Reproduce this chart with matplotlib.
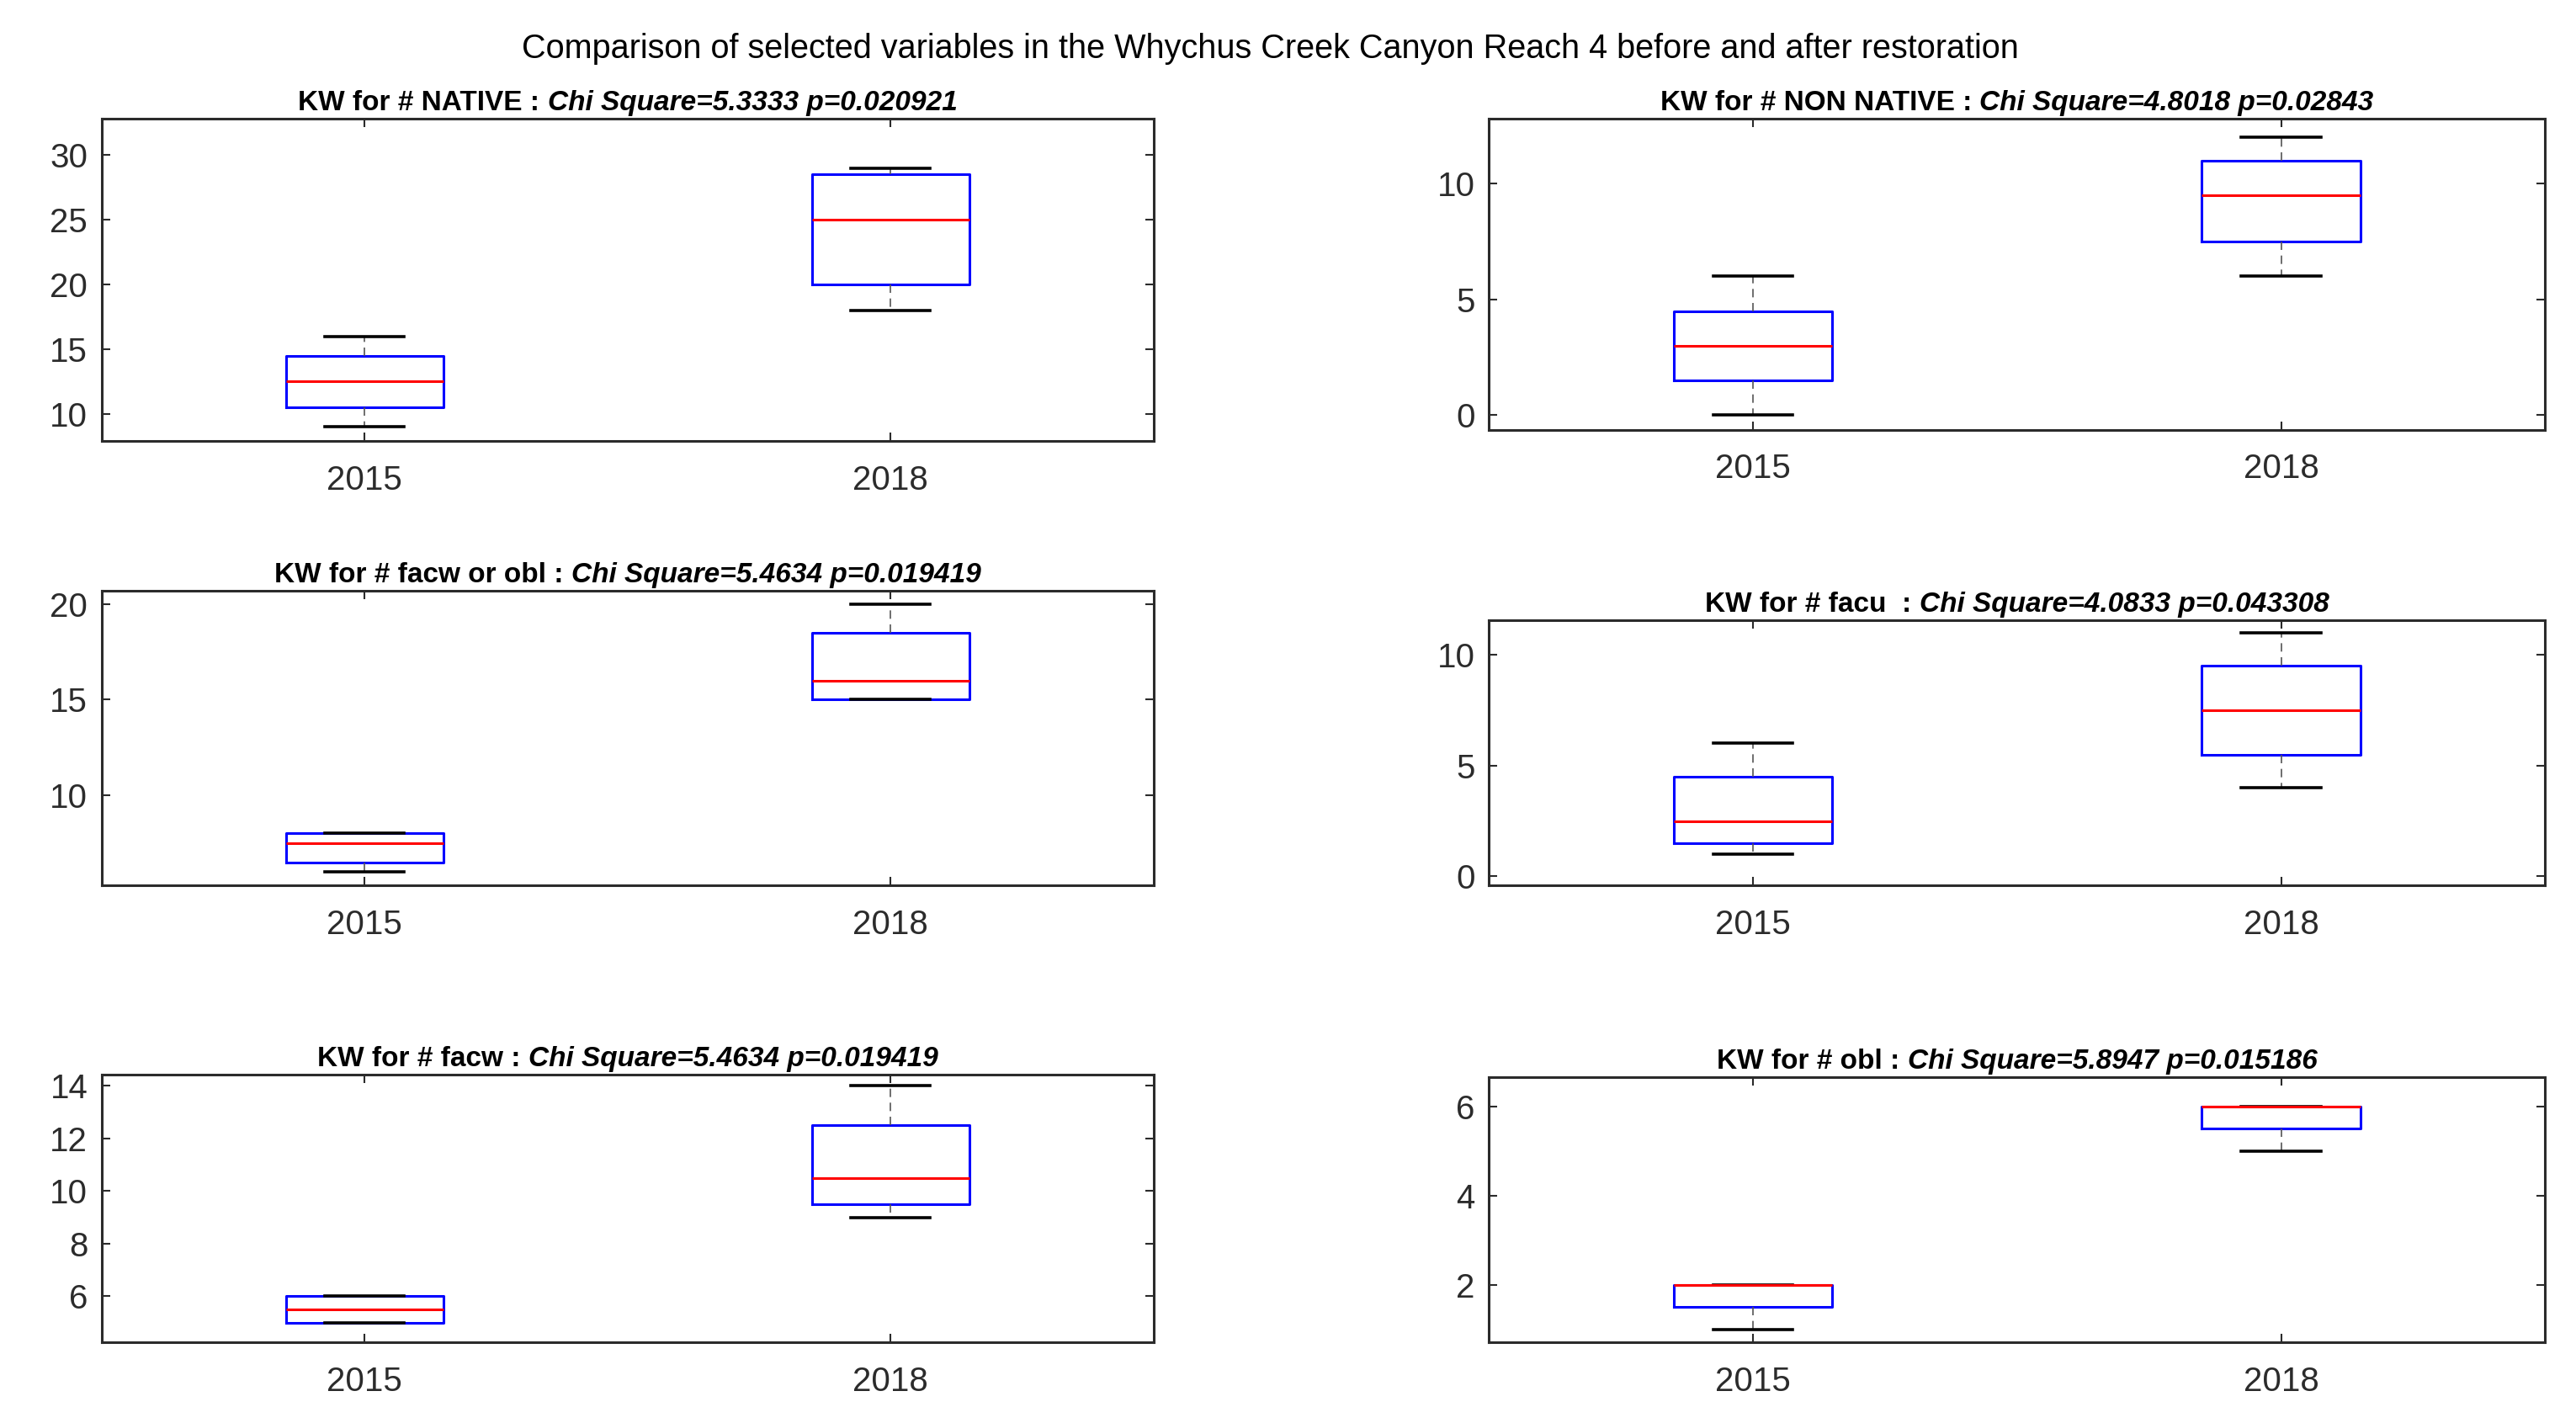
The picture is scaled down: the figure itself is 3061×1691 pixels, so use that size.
import matplotlib
matplotlib.use('Agg')
import matplotlib.pyplot as plt
from matplotlib.offsetbox import TextArea, HPacker, AnchoredOffsetbox

plt.rcParams['font.family'] = ['Liberation Sans', 'DejaVu Sans']

years = ['2015', '2018']

# five number summary per year: whisker low, q1, median, q3, whisker high
native = [[9, 10.5, 12.5, 14.5, 16], [18, 20, 25, 28.5, 29]]
non_native = [[0, 1.5, 3, 4.5, 6], [6, 7.5, 9.5, 11, 12]]
facw_obl = [[6, 6.5, 7.5, 8, 8], [15, 15, 16, 18.5, 20]]
facu = [[1, 1.5, 2.5, 4.5, 6], [4, 5.5, 7.5, 9.5, 11]]
facw = [[5, 5, 5.5, 6, 6], [9, 9.5, 10.5, 12.5, 14]]
obl = [[1, 1.5, 2, 2, 2], [5, 5.5, 6, 6, 6]]

names = ['# NATIVE', '# NON NATIVE', '# facw or obl', '# facu ', '# facw', '# obl']
stats_text = ['Chi Square=5.3333 p=0.020921', 'Chi Square=4.8018 p=0.02843',
              'Chi Square=5.4634 p=0.019419', 'Chi Square=4.0833 p=0.043308',
              'Chi Square=5.4634 p=0.019419', 'Chi Square=5.8947 p=0.015186']
summaries = [native, non_native, facw_obl, facu, facw, obl]
ylims = [(7.9, 32.8), (-0.63, 12.8), (5.3, 20.7), (-0.4, 11.57), (4.25, 14.43), (0.71, 6.66)]
yticks = [[10, 15, 20, 25, 30], [0, 5, 10], [10, 15, 20], [0, 5, 10], [6, 8, 10, 12, 14], [2, 4, 6]]

# axes rectangles [left, bottom, width, height]
rects = [[0.0395, 0.690, 0.4083, 0.2266], [0.578, 0.698, 0.410, 0.2185],
         [0.0395, 0.378, 0.4083, 0.207], [0.578, 0.378, 0.410, 0.1862],
         [0.0395, 0.0568, 0.4083, 0.188], [0.578, 0.0568, 0.410, 0.1862]]

axcol = '#2b2b2b'
fig = plt.figure(figsize=(30.61, 16.91), dpi=100)

for i in range(6):
    ax = fig.add_axes(rects[i])
    bstats = []
    for j, s in enumerate(summaries[i]):
        bstats.append({'whislo': s[0], 'q1': s[1], 'med': s[2], 'q3': s[3], 'whishi': s[4],
                       'fliers': [], 'label': years[j]})
    ax.bxp(bstats, positions=[1, 2], widths=0.3, capwidths=0.15, showfliers=False,
           boxprops=dict(color='blue', linewidth=2.2),
           medianprops=dict(color='red', linewidth=2.2),
           whiskerprops=dict(color='#555555', linewidth=1.2, linestyle=(0, (6, 4))),
           capprops=dict(color='black', linewidth=2.6))
    ax.set_xlim(0.5, 2.5)
    ax.set_ylim(*ylims[i])
    ax.set_xticks([1, 2])
    ax.set_xticklabels(years)
    ax.set_yticks(yticks[i])
    ax.tick_params(direction='in', top=True, right=True, length=7, width=1.5,
                   labelsize=29, colors=axcol)
    ax.tick_params(axis='x', pad=20)
    ax.tick_params(axis='y', pad=12)
    for sp in ax.spines.values():
        sp.set_color(axcol)
        sp.set_linewidth(2.2)

    # title: normal part + italic part
    t1 = TextArea('KW for ' + names[i] + ' : ', textprops=dict(fontsize=24, fontweight='bold', color='black'))
    t2 = TextArea(stats_text[i], textprops=dict(fontsize=24, fontstyle='italic', fontweight='bold', color='black'))
    box = HPacker(children=[t1, t2], align='baseline', pad=0, sep=0)
    anch = AnchoredOffsetbox(loc='lower center', child=box, pad=0, borderpad=0.2,
                             bbox_to_anchor=(0.5, 1.0), bbox_transform=ax.transAxes, frameon=False)
    ax.add_artist(anch)

fig.text(0.493, 1 - 58 / 1691, 'Comparison of selected variables in the Whychus Creek Canyon Reach 4 before and after restoration',
         ha='center', va='center', fontsize=28.5, color='black')

plt.savefig('out.png', dpi=100)
